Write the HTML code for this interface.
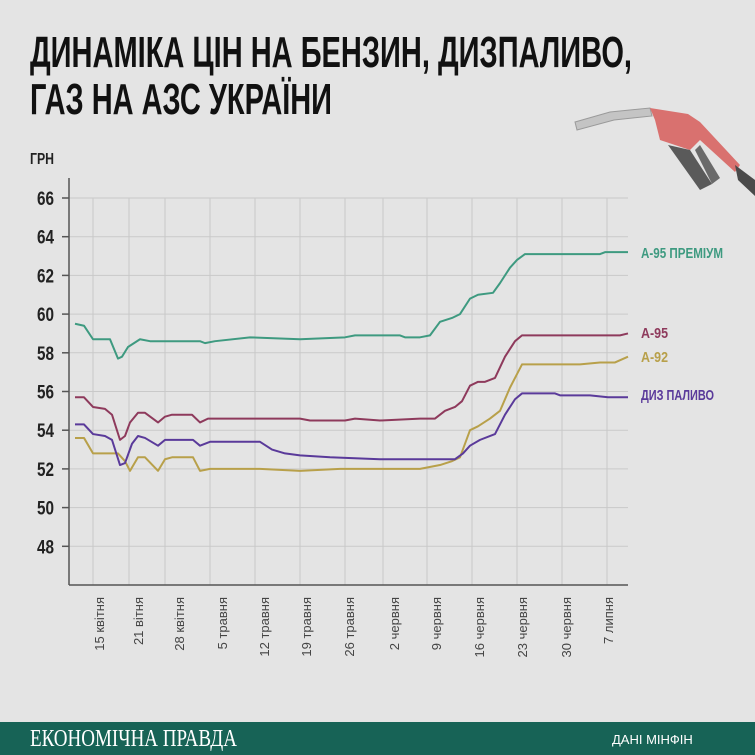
<!DOCTYPE html>
<html><head><meta charset="utf-8"><style>
html,body{margin:0;padding:0;background:#e4e4e4;}
svg{display:block}
</style></head><body>
<svg width="755" height="755" viewBox="0 0 755 755" xmlns="http://www.w3.org/2000/svg">
<rect width="755" height="755" fill="#e4e4e4"/>
<g font-family="'Liberation Sans Narrow','Liberation Sans',sans-serif" font-weight="bold" fill="#111">
<text x="30" y="67" font-size="44" textLength="602" lengthAdjust="spacingAndGlyphs">ДИНАМІКА ЦІН НА БЕНЗИН, ДИЗПАЛИВО,</text>
<text x="30" y="114" font-size="44" textLength="302" lengthAdjust="spacingAndGlyphs">ГАЗ НА АЗС УКРАЇНИ</text>
</g>
<!-- nozzle -->
<g>
<path d="M575 122 L610 112 L650 108 L652 116 L614 120 L577 130 Z" fill="#c4c4c4" stroke="#9a9a9a" stroke-width="1"/>
<path d="M650 108 L688 114 L700 122 L740 165 L735 172 L700 140 L690 150 L660 140 L655 120 Z" fill="#d9716f"/>
<path d="M668 145 L700 190 L712 184 L690 150 Z" fill="#5a5a5a"/>
<path d="M695 150 L712 184 L720 178 L700 145 Z" fill="#6a6a6a"/>
<path d="M735 165 L755 180 L755 196 L738 180 Z" fill="#4a4a4a"/>
</g>
<!-- grid -->
<g stroke="#c9c9c9" stroke-width="1">
<line x1="69" y1="198" x2="628" y2="198"/><line x1="69" y1="236.7" x2="628" y2="236.7"/>
<line x1="69" y1="275.4" x2="628" y2="275.4"/><line x1="69" y1="314.1" x2="628" y2="314.1"/>
<line x1="69" y1="352.8" x2="628" y2="352.8"/><line x1="69" y1="391.5" x2="628" y2="391.5"/>
<line x1="69" y1="430.2" x2="628" y2="430.2"/><line x1="69" y1="468.9" x2="628" y2="468.9"/>
<line x1="69" y1="507.6" x2="628" y2="507.6"/><line x1="69" y1="546.3" x2="628" y2="546.3"/>
<line x1="93" y1="198" x2="93" y2="585"/><line x1="129" y1="198" x2="129" y2="585"/>
<line x1="165" y1="198" x2="165" y2="585"/><line x1="210" y1="198" x2="210" y2="585"/>
<line x1="255" y1="198" x2="255" y2="585"/><line x1="300" y1="198" x2="300" y2="585"/>
<line x1="345" y1="198" x2="345" y2="585"/><line x1="383" y1="198" x2="383" y2="585"/>
<line x1="427" y1="198" x2="427" y2="585"/><line x1="472" y1="198" x2="472" y2="585"/>
<line x1="517" y1="198" x2="517" y2="585"/><line x1="562" y1="198" x2="562" y2="585"/>
<line x1="607" y1="198" x2="607" y2="585"/>
</g>
<g stroke="#555" stroke-width="1.5">
<line x1="69" y1="178" x2="69" y2="585"/><line x1="69" y1="585" x2="628" y2="585"/>
<line x1="62" y1="198" x2="69" y2="198"/><line x1="62" y1="236.7" x2="69" y2="236.7"/><line x1="62" y1="275.4" x2="69" y2="275.4"/><line x1="62" y1="314.1" x2="69" y2="314.1"/><line x1="62" y1="352.8" x2="69" y2="352.8"/><line x1="62" y1="391.5" x2="69" y2="391.5"/><line x1="62" y1="430.2" x2="69" y2="430.2"/><line x1="62" y1="468.9" x2="69" y2="468.9"/><line x1="62" y1="507.6" x2="69" y2="507.6"/><line x1="62" y1="546.3" x2="69" y2="546.3"/>
</g>
<g font-family="'Liberation Sans Narrow','Liberation Sans',sans-serif" font-weight="bold" font-size="19" fill="#222">
<text x="30" y="164" font-size="16" textLength="24" lengthAdjust="spacingAndGlyphs">ГРН</text>
<text x="37" y="205" textLength="17" lengthAdjust="spacingAndGlyphs">66</text>
<text x="37" y="243.7" textLength="17" lengthAdjust="spacingAndGlyphs">64</text>
<text x="37" y="282.4" textLength="17" lengthAdjust="spacingAndGlyphs">62</text>
<text x="37" y="321.1" textLength="17" lengthAdjust="spacingAndGlyphs">60</text>
<text x="37" y="359.8" textLength="17" lengthAdjust="spacingAndGlyphs">58</text>
<text x="37" y="398.5" textLength="17" lengthAdjust="spacingAndGlyphs">56</text>
<text x="37" y="437.2" textLength="17" lengthAdjust="spacingAndGlyphs">54</text>
<text x="37" y="475.9" textLength="17" lengthAdjust="spacingAndGlyphs">52</text>
<text x="37" y="514.6" textLength="17" lengthAdjust="spacingAndGlyphs">50</text>
<text x="37" y="553.3" textLength="17" lengthAdjust="spacingAndGlyphs">48</text>
</g>
<g font-family="'Liberation Sans',sans-serif" font-size="13" fill="#444" text-anchor="end">
<text transform="translate(104,597) rotate(-90)">15 квітня</text>
<text transform="translate(143,597) rotate(-90)">21 вітня</text>
<text transform="translate(184,597) rotate(-90)">28 квітня</text>
<text transform="translate(227,597) rotate(-90)">5 травня</text>
<text transform="translate(269,597) rotate(-90)">12 травня</text>
<text transform="translate(311,597) rotate(-90)">19 травня</text>
<text transform="translate(354,597) rotate(-90)">26 травня</text>
<text transform="translate(399,597) rotate(-90)">2 червня</text>
<text transform="translate(441,597) rotate(-90)">9 червня</text>
<text transform="translate(484,597) rotate(-90)">16 червня</text>
<text transform="translate(527,597) rotate(-90)">23 червня</text>
<text transform="translate(571,597) rotate(-90)">30 червня</text>
<text transform="translate(613,597) rotate(-90)">7 липня</text>
</g>
<g fill="none" stroke-width="2" stroke-linejoin="round" transform="matrix(1,0,0,-19.35,0,1475.1)">
<polyline vector-effect="non-scaling-stroke" stroke="#3e9a80" points="75,59.5 84,59.4 93,58.7 110,58.7 118,57.7 122,57.8 128,58.3 140,58.7 150,58.6 158,58.6 200,58.6 205,58.5 215,58.6 250,58.8 300,58.7 345,58.8 355,58.9 400,58.9 405,58.8 420,58.8 430,58.9 440,59.6 452,59.8 460,60.0 470,60.8 478,61.0 493,61.1 500,61.6 510,62.4 517,62.8 525,63.1 600,63.1 605,63.2 628,63.2"/>
<polyline vector-effect="non-scaling-stroke" stroke="#8e3a5c" points="75,55.7 84,55.7 93,55.2 105,55.1 112,54.8 120,53.5 125,53.7 130,54.4 138,54.9 145,54.9 158,54.4 165,54.7 172,54.8 192,54.8 200,54.4 208,54.6 300,54.6 310,54.5 345,54.5 355,54.6 380,54.5 420,54.6 435,54.6 445,55.0 455,55.2 462,55.5 470,56.3 478,56.5 485,56.5 495,56.7 505,57.8 515,58.6 522,58.9 620,58.9 628,59.0"/>
<polyline vector-effect="non-scaling-stroke" stroke="#b8a04a" points="75,53.6 84,53.6 93,52.8 118,52.8 125,52.4 130,51.9 138,52.6 145,52.6 158,51.9 165,52.5 172,52.6 193,52.6 200,51.9 210,52.0 260,52.0 300,51.9 340,52.0 420,52.0 440,52.2 452,52.4 460,52.6 470,54.0 478,54.2 490,54.6 500,55.0 510,56.2 522,57.4 580,57.4 600,57.5 615,57.5 628,57.8"/>
<polyline vector-effect="non-scaling-stroke" stroke="#5a3a9a" points="75,54.3 84,54.3 93,53.8 105,53.7 112,53.5 120,52.2 125,52.3 132,53.3 138,53.7 145,53.6 158,53.2 165,53.5 172,53.5 193,53.5 200,53.2 210,53.4 260,53.4 272,53.0 285,52.8 300,52.7 330,52.6 380,52.5 455,52.5 463,52.8 470,53.2 480,53.5 495,53.8 505,54.8 515,55.6 522,55.9 555,55.9 560,55.8 590,55.8 608,55.7 628,55.7"/>
</g>
<g font-family="'Liberation Sans Narrow','Liberation Sans',sans-serif" font-weight="bold" font-size="15">
<text x="641" y="258" fill="#3e9a80" textLength="82" lengthAdjust="spacingAndGlyphs">А-95 ПРЕМІУМ</text>
<text x="641" y="338" fill="#8e3a5c" textLength="27" lengthAdjust="spacingAndGlyphs">А-95</text>
<text x="641" y="362" fill="#b8a04a" textLength="27" lengthAdjust="spacingAndGlyphs">А-92</text>
<text x="641" y="400" fill="#5a3a9a" textLength="73" lengthAdjust="spacingAndGlyphs">ДИЗ ПАЛИВО</text>
</g>
<rect x="0" y="722" width="755" height="33" fill="#176356"/>
<text x="30" y="746" font-family="'Liberation Serif',serif" font-size="24" fill="#fff" textLength="207" lengthAdjust="spacingAndGlyphs">ЕКОНОМІЧНА ПРАВДА</text>
<text x="612" y="744" font-family="'Liberation Sans',sans-serif" font-size="13" fill="#fff">ДАНІ МІНФІН</text>
</svg>
</body></html>
